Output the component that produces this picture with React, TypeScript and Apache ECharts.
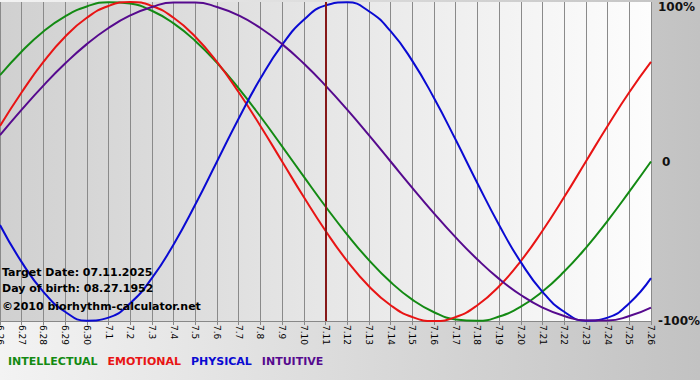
import React, { useEffect, useRef } from "react";
import * as echarts from "echarts";

const dates = [
  "6.26", "6.27", "6.28", "6.29", "6.30", "7.1", "7.2", "7.3", "7.4", "7.5", "7.6",
  "7.7", "7.8", "7.9", "7.10", "7.11", "7.12", "7.13", "7.14", "7.15", "7.16",
  "7.17", "7.18", "7.19", "7.20", "7.21", "7.22", "7.23", "7.24", "7.25", "7.26",
];

const intellectual = [
  54.1, 69.0, 81.5, 91.0, 97.2, 99.9, 99.0, 94.5, 86.6, 75.6, 61.8, 45.8, 28.2, 9.5,
  -9.5, -28.2, -45.8, -61.8, -75.6, -86.6, -94.5, -99.0, -99.9, -97.2, -91.0, -81.5,
  -69.0, -54.1, -37.2, -18.9, 0,
];
const emotional = [
  22.3, 43.4, 62.4, 78.2, 90.1, 97.5, 100, 97.5, 90.1, 78.2, 62.4, 43.4, 22.3, 0,
  -22.3, -43.4, -62.4, -78.2, -90.1, -97.5, -100, -97.5, -90.1, -78.2, -62.4, -43.4,
  -22.3, 0, 22.3, 43.4, 62.4,
];
const physical = [
  -39.8, -63.1, -81.7, -94.2, -99.8, -97.9, -88.8, -73.1, -52.0, -27.0, 0, 27.0, 52.0,
  73.1, 88.8, 97.9, 99.8, 94.2, 81.7, 63.1, 39.8, 13.6, -13.6, -39.8, -63.1, -81.7,
  -94.2, -99.8, -97.9, -88.8, -73.1,
];
const intuitive = [
  16.5, 32.5, 47.6, 61.4, 73.6, 83.7, 91.6, 96.9, 99.7, 99.7, 96.9, 91.6, 83.7, 73.6,
  61.4, 47.6, 32.5, 16.5, 0, -16.5, -32.5, -47.6, -61.4, -73.6, -83.7, -91.6, -96.9,
  -99.7, -99.7, -96.9, -91.6,
];

const seriesNames = ["INTELLECTUAL", "EMOTIONAL", "PHYSICAL", "INTUITIVE"];
const seriesColors = ["#138a13", "#e81414", "#0a0ad2", "#560a8e"];
const targetDate = "7.11";
const infoLines = [
  "Target Date: 07.11.2025",
  "Day of birth: 08.27.1952",
  "\u00a92010 biorhythm-calculator.net",
];

export default function App() {
  const ref = useRef<HTMLDivElement>(null);
  useEffect(() => {
    document.body.style.margin = "0";
    if (!ref.current) return;
    const chart = echarts.init(ref.current, null, { renderer: "svg" });
    const font = "DejaVu Sans";
    const data = [intellectual, emotional, physical, intuitive];
    chart.setOption({
      animation: false,
      backgroundColor: {
        type: "linear", x: 0, y: 0, x2: 1, y2: 0,
        colorStops: [
          { offset: 0, color: "#f3f3f3" },
          { offset: 1, color: "#c2c2c2" },
        ],
      },
      grid: {
        left: 0, right: 49, top: 2, bottom: 59, containLabel: false, show: true,
        outerBoundsMode: "none",
        borderWidth: 0,
        backgroundColor: {
          type: "linear", x: 0, y: 0, x2: 1, y2: 0,
          colorStops: [
            { offset: 0, color: "#d0d0d0" },
            { offset: 1, color: "#fdfdfd" },
          ],
        },
      },
      legend: {
        left: -2, top: 349, icon: "none", itemWidth: 0, itemHeight: 14, itemGap: 5,
        selectedMode: false,
        data: seriesNames.map((n, i) => ({
          name: n,
          textStyle: { color: seriesColors[i], fontFamily: font, fontWeight: "bold", fontSize: 11 },
        })),
      },
      xAxis: {
        type: "category", data: dates, boundaryGap: false,
        axisLine: { show: true, onZero: false, lineStyle: { color: "#888", width: 1 } },
        axisTick: { show: true, interval: 0, length: 4, lineStyle: { color: "#888" } },
        splitLine: { show: true, interval: 0, lineStyle: { color: "#8a8a8a", width: 1 } },
        axisLabel: {
          interval: 0, rotate: -90, fontFamily: font, fontSize: 9, color: "#000", margin: 4,
          verticalAlign: "middle", padding: [6, 0, 0, 0],
        },
      },
      yAxis: {
        type: "value", position: "right", min: -100, max: 100, interval: 100,
        axisLine: { show: false }, axisTick: { show: false }, splitLine: { show: false },
        axisLabel: {
          margin: 7, fontFamily: font, fontWeight: "bold", fontSize: 12, color: "#111",
          formatter: (v: number) => (v === 100 ? "{top|100%}" : v === 0 ? "{zero|0}" : v + "%"),
          rich: {
            top: { padding: [10, 0, 0, 0], fontFamily: font, fontWeight: "bold", fontSize: 12, color: "#111" },
            zero: { padding: [0, 0, 0, 4], fontFamily: font, fontWeight: "bold", fontSize: 12, color: "#111" },
          },
        },
      },
      series: seriesNames.map((n, i) => ({
        name: n, type: "line", data: data[i], smooth: 0.5, symbol: "none",
        lineStyle: { color: seriesColors[i], width: 2 },
        itemStyle: { color: seriesColors[i] },
        ...(i === 0
          ? {
              markLine: {
                silent: true, symbol: "none", label: { show: false },
                lineStyle: { color: "#861818", width: 2, type: "solid" },
                data: [{ xAxis: targetDate }],
              },
            }
          : {}),
      })),
      graphic: infoLines.map((t, i) => ({
        type: "text", left: 2, top: [267, 283, 301][i],
        style: { text: t, fill: "#000", font: `bold 11px "${font}"` },
        z: 100,
      })),
    });
    return () => chart.dispose();
  }, []);
  return <div ref={ref} style={{ width: 700, height: 380 }} />;
}
